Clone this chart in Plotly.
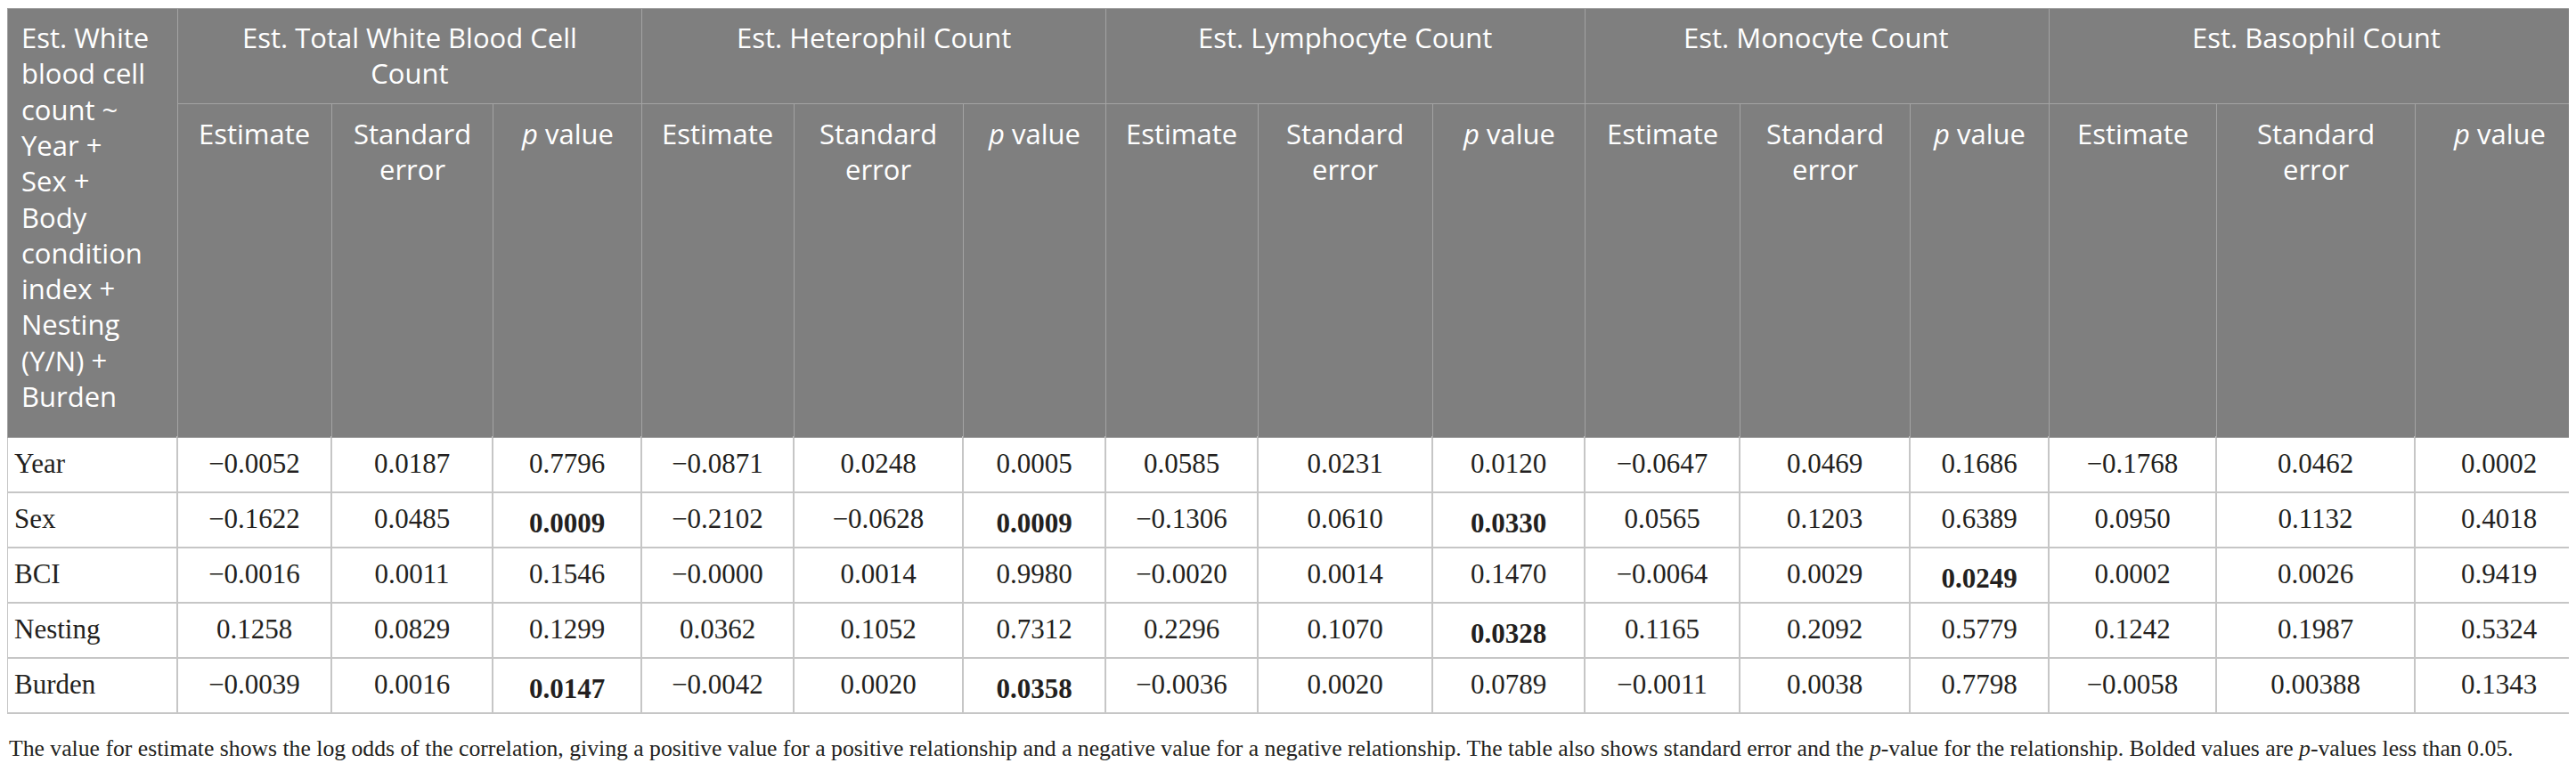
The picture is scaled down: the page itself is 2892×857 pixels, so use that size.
import plotly.graph_objects as go

# ── data ────────────────────────────────────────────────────────────
model_label = ("Est. White<br>blood cell<br>count ~<br>Year +<br>Sex +<br>Body<br>"
               "condition<br>index +<br>Nesting<br>(Y/N) +<br>Burden")
predictors = ["Year", "Sex", "BCI", "Nesting", "Burden"]
groups = [
    "Est. Total White Blood Cell<br>Count",
    "Est. Heterophil Count",
    "Est. Lymphocyte Count",
    "Est. Monocyte Count",
    "Est. Basophil Count",
]
sub_headers = ["Estimate", "Standard<br>error", "<i>p</i> value"]

total_est = ["−0.0052", "−0.1622", "−0.0016", "0.1258", "−0.0039"]
total_se  = ["0.0187", "0.0485", "0.0011", "0.0829", "0.0016"]
total_p   = ["0.7796", "0.0009", "0.1546", "0.1299", "0.0147"]

hetero_est = ["−0.0871", "−0.2102", "−0.0000", "0.0362", "−0.0042"]
hetero_se  = ["0.0248", "−0.0628", "0.0014", "0.1052", "0.0020"]
hetero_p   = ["0.0005", "0.0009", "0.9980", "0.7312", "0.0358"]

lympho_est = ["0.0585", "−0.1306", "−0.0020", "0.2296", "−0.0036"]
lympho_se  = ["0.0231", "0.0610", "0.0014", "0.1070", "0.0020"]
lympho_p   = ["0.0120", "0.0330", "0.1470", "0.0328", "0.0789"]

mono_est = ["−0.0647", "0.0565", "−0.0064", "0.1165", "−0.0011"]
mono_se  = ["0.0469", "0.1203", "0.0029", "0.2092", "0.0038"]
mono_p   = ["0.1686", "0.6389", "0.0249", "0.5779", "0.7798"]

baso_est = ["−0.1768", "0.0950", "0.0002", "0.1242", "−0.0058"]
baso_se  = ["0.0462", "0.1132", "0.0026", "0.1987", "0.00388"]
baso_p   = ["0.0002", "0.4018", "0.9419", "0.5324", "0.1343"]

# which p values are printed bold in the source (row index per group)
bold_total  = [1, 4]
bold_hetero = [1, 4]
bold_lympho = [1, 3]
bold_mono   = [2]
bold_baso   = []

footnote = ("The value for estimate shows the log odds of the correlation, giving a positive value "
            "for a positive relationship and a negative value for a negative relationship. The table "
            "also shows standard error and the <i>p</i>-value for the relationship. Bolded values are "
            "<i>p</i>-values less than 0.05.")

# ── layout helpers ──────────────────────────────────────────────────
W, H = 2892, 857
col_px = [191, 173, 181, 167, 171, 190, 160, 171, 196, 171, 174, 191, 156, 188, 223, 189]
top, grp_bottom, head_bottom = 9, 116, 491
shift = 8      # plotly draws the table a few px below the domain top
text_drop = 9  # plotly puts cell text near the top; drop it to the row middle
ROW_H = 62

HEAD_FILL = "#7f7f7f"
HEAD_LINE = "#a3a3a3"
CELL_LINE = "#c6c6c6"
CLEAR = "rgba(0,0,0,0)"
SANS = "Open Sans"
SERIF = "Liberation Serif"
TEXT = "#231f20"
CELL_SIZE = 31


def bolded(vals, idx):
    return [f"<b>{v}</b>" if i in idx else v for i, v in enumerate(vals)]


def py(px):
    return 1 - px / H


x_split = col_px[0] / W

columns = [
    total_est, total_se, bolded(total_p, bold_total),
    hetero_est, hetero_se, bolded(hetero_p, bold_hetero),
    lympho_est, lympho_se, bolded(lympho_p, bold_lympho),
    mono_est, mono_se, bolded(mono_p, bold_mono),
    baso_est, baso_se, bolded(baso_p, bold_baso),
]
blank = [""] * len(predictors)

fig = go.Figure()

# grid: left column (model header + predictor rows)
fig.add_trace(go.Table(
    domain=dict(x=[0, x_split], y=[0, py(top - shift)]),
    columnwidth=[col_px[0]],
    header=dict(values=[""], fill_color=HEAD_FILL,
                line=dict(color=HEAD_LINE, width=1), height=head_bottom - top),
    cells=dict(values=[blank], fill_color="white",
               line=dict(color=CELL_LINE, width=1.5), height=ROW_H),
))

# grid: group header row
group_w = [sum(col_px[1 + 3 * i:4 + 3 * i]) for i in range(5)]
fig.add_trace(go.Table(
    domain=dict(x=[x_split, 1], y=[py(grp_bottom) - 0.02, py(top - shift)]),
    columnwidth=group_w,
    header=dict(values=["" for _ in groups], fill_color=HEAD_FILL,
                line=dict(color=HEAD_LINE, width=1), height=grp_bottom - top),
    cells=dict(values=[[] for _ in groups]),
))

# grid: sub headers + value rows
fig.add_trace(go.Table(
    domain=dict(x=[x_split, 1], y=[0, py(grp_bottom - shift)]),
    columnwidth=col_px[1:],
    header=dict(values=["" for _ in range(15)], fill_color=HEAD_FILL,
                line=dict(color=HEAD_LINE, width=1), height=head_bottom - grp_bottom),
    cells=dict(values=[blank for _ in range(15)], fill_color="white",
               line=dict(color=CELL_LINE, width=1.5), height=ROW_H),
))

# text layers: same tables, transparent, dropped a little
fig.add_trace(go.Table(
    domain=dict(x=[0, x_split], y=[0, py(top - shift + text_drop)]),
    columnwidth=[col_px[0]],
    header=dict(values=[""], fill_color=CLEAR, line=dict(color=CLEAR, width=0),
                height=head_bottom - top),
    cells=dict(values=[predictors], fill_color=CLEAR, line=dict(color=CLEAR, width=0),
               font=dict(family=SERIF, size=CELL_SIZE, color=TEXT),
               align="left", height=ROW_H),
))
fig.add_trace(go.Table(
    domain=dict(x=[x_split, 1], y=[0, py(grp_bottom - shift + text_drop)]),
    columnwidth=col_px[1:],
    header=dict(values=["" for _ in range(15)], fill_color=CLEAR,
                line=dict(color=CLEAR, width=0), height=head_bottom - grp_bottom),
    cells=dict(values=columns, fill_color=CLEAR, line=dict(color=CLEAR, width=0),
               font=dict(family=SERIF, size=CELL_SIZE, color=TEXT),
               align="center", height=ROW_H),
))

# header labels (annotations so multi-line text centres properly)
head_font = dict(family=SANS, size=31, color="white")
fig.add_annotation(
    x=14 / W, xref="paper", xanchor="left",
    y=py(top + 2), yref="paper", yanchor="top",
    text=model_label, align="left", showarrow=False, font=head_font,
)
edges = [0]
for w in col_px:
    edges.append(edges[-1] + w)
for i, g in enumerate(groups):
    cx = (edges[1 + 3 * i] + edges[4 + 3 * i]) / 2
    fig.add_annotation(
        x=cx / W, xref="paper", xanchor="center",
        y=py(top + 2), yref="paper", yanchor="top",
        text=g, align="center", showarrow=False, font=head_font,
    )
for j in range(15):
    cx = (edges[1 + j] + edges[2 + j]) / 2
    fig.add_annotation(
        x=cx / W, xref="paper", xanchor="center",
        y=py(grp_bottom + 3), yref="paper", yanchor="top",
        text=sub_headers[j % 3], align="center", showarrow=False, font=head_font,
    )

fig.add_annotation(
    x=0, xref="paper", xanchor="left",
    y=py(832), yref="paper", yanchor="middle",
    text=footnote, showarrow=False,
    font=dict(family=SERIF, size=25.7, color=TEXT),
)

fig.update_layout(
    width=W, height=H,
    margin=dict(l=0, r=0, t=0, b=0),
    paper_bgcolor="white",
    plot_bgcolor="white",
)

fig.write_html("out.html")
